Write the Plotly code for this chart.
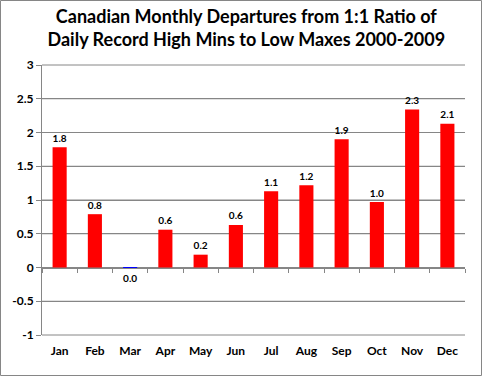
import plotly.graph_objects as go

months = ["Jan", "Feb", "Mar", "Apr", "May", "Jun", "Jul", "Aug", "Sep", "Oct", "Nov", "Dec"]
values = [1.78, 0.79, -0.02, 0.56, 0.19, 0.63, 1.13, 1.22, 1.90, 0.97, 2.34, 2.13]
yticks = [-1, -0.5, 0, 0.5, 1, 1.5, 2, 2.5, 3]
ytick_labels = ["-1", "-0.5", "0", "0.5", "1", "1.5", "2", "2.5", "3"]

W, H = 483, 377
ML, MR, MT, MB = 42, 18, 65, 42
YMIN, YMAX = -1, 3

colors = ["#0000FF" if v < 0 else "#FF0000" for v in values]
labels = [f"{v:.1f}".replace("-0.0", "0.0") for v in values]
FONT = "Lato, Open Sans, sans-serif"
GRID = "#868686"

fig = go.Figure()
fig.add_trace(go.Bar(
    x=months, y=values, marker=dict(color=colors, line=dict(width=0)),
    width=0.4, text=labels, textposition="outside", cliponaxis=False,
    textfont=dict(family=FONT, size=12, color="black", weight="bold"),
    hoverinfo="skip",
))

pw = W - ML - MR
ph = H - MT - MB

# horizontal gridlines at every y tick, placed by the y range (behind the bars)
grid_shapes = [dict(
    type="line", xref="paper", yref="paper", x0=0, x1=1,
    y0=(t - YMIN) / (YMAX - YMIN), y1=(t - YMIN) / (YMAX - YMIN),
    line=dict(color=GRID, width=1), layer="below",
) for t in yticks if t != 0]

border = dict(
    type="rect", xref="paper", yref="paper",
    x0=-(ML - 0.5) / pw, x1=1 + (MR - 1.5) / pw,
    y0=-(MB - 1.5) / ph, y1=1 + (MT - 0.5) / ph,
    line=dict(color=GRID, width=1), fillcolor="rgba(0,0,0,0)",
    layer="above",
)

fig.update_layout(
    template="none",
    width=W, height=H,
    margin=dict(l=ML, r=MR, t=MT, b=MB),
    paper_bgcolor="white", plot_bgcolor="rgba(0,0,0,0)",
    showlegend=False,
    font=dict(family=FONT, size=12, color="black"),
    title=dict(
        text="<b>Canadian Monthly Departures from 1:1 Ratio of<br>Daily Record High Mins to Low Maxes 2000-2009</b>",
        x=0.51, xanchor="center", y=0.94, yanchor="middle",
        font=dict(family=FONT, size=18, color="black"),
    ),
    # category axis sits on the zero line; labels pushed down to the bottom
    xaxis=dict(
        type="category", categoryorder="array", categoryarray=months,
        anchor="free", position=(0 - YMIN) / (YMAX - YMIN),
        showgrid=False, showline=True, linecolor=GRID, linewidth=1,
        ticks="outside", tickson="boundaries", ticklen=4, tickcolor=GRID,
        zeroline=False,
        tickfont=dict(family=FONT, size=12, color="black", weight="bold"),
        ticklabelstandoff=72,
    ),
    yaxis=dict(
        range=[YMIN, YMAX], tickmode="array", tickvals=yticks, ticktext=ytick_labels,
        showgrid=True, gridcolor=GRID, gridwidth=1,
        showline=True, linecolor=GRID, linewidth=1,
        ticks="outside", ticklen=5, tickcolor=GRID,
        zeroline=False,
        tickfont=dict(family=FONT, size=12, color="black", weight="bold"),
    ),
    bargap=0.6,
    shapes=grid_shapes + [border],
)

fig.write_html(
    "out.html",
    config={"displayModeBar": False},
    post_script="document.body.style.margin='0';document.body.style.padding='0';",
)
